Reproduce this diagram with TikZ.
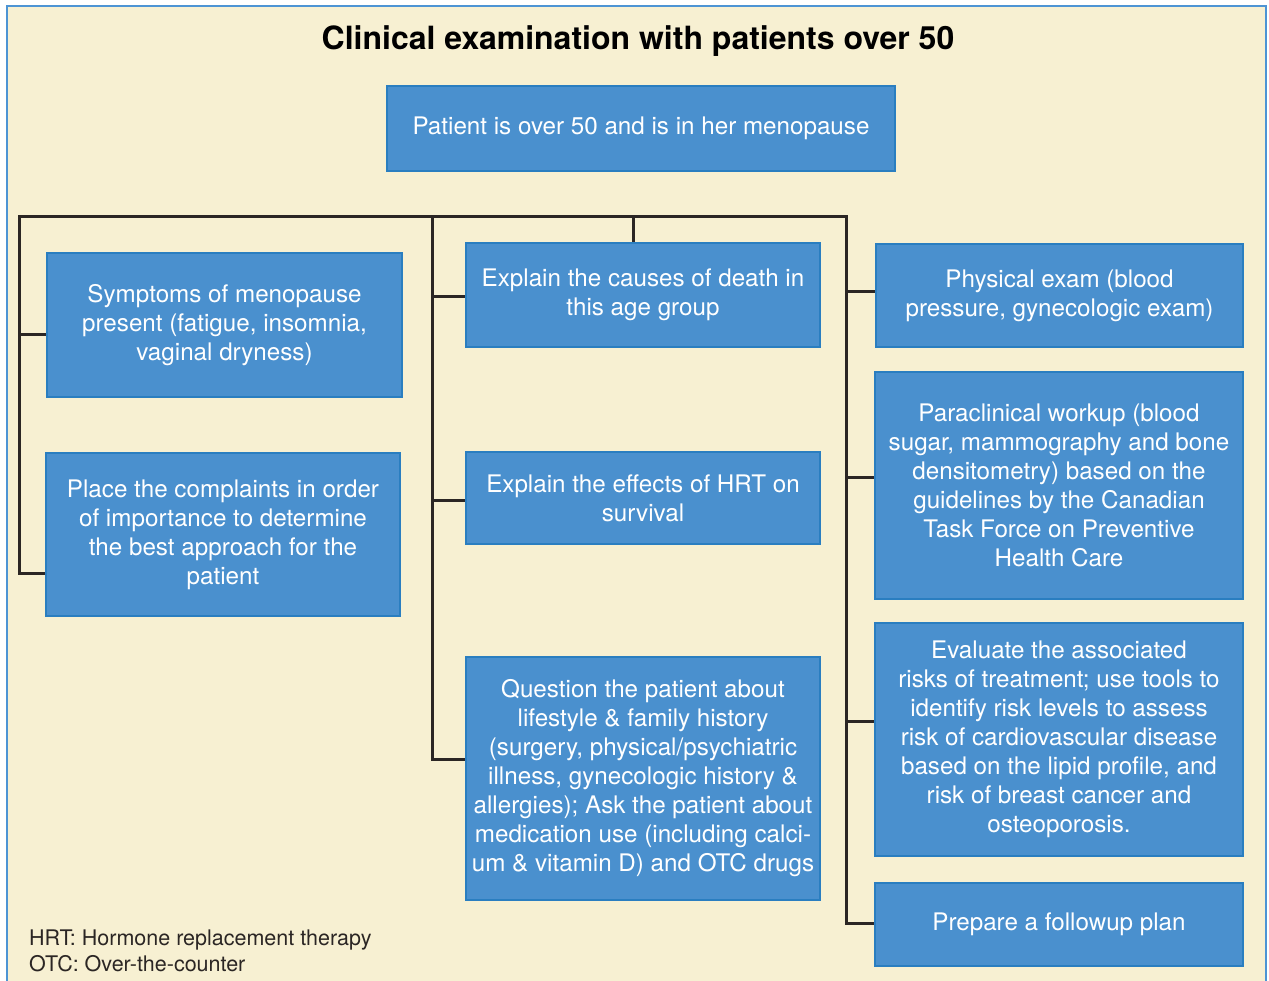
\documentclass[tikz,border=0pt]{standalone}
\usepackage{fontspec}
\setmainfont{TeX Gyre Heros}
\definecolor{cream}{HTML}{F7F0D2}
\definecolor{boxblue}{HTML}{4A90CE}
\definecolor{boxline}{HTML}{2A7EC0}
\definecolor{framecol}{HTML}{4D94D4}
\definecolor{wirecol}{HTML}{2B2624}
\tikzset{
  panel/.style={draw=boxline, line width=1.5pt, fill=boxblue, text=white, align=center,
    inner sep=0pt, font=\fontsize{24.2}{29}\selectfont},
  wire/.style={draw=wirecol, line width=3pt},
}
\begin{document}
\begin{tikzpicture}[x=1pt,y=-1pt]

	\useasboundingbox (0,0) rectangle (1269,980);
	\fill[cream] (7,6) rectangle (1266,990);
	\draw[framecol, line width=2.5pt] (7,990) -- (7,6) -- (1266,6) -- (1266,990);

	\node (title) at (638,41) {\fontsize{32}{38}\selectfont\bfseries Clinical examination with patients over 50};

	\node[panel, minimum width=508, minimum height=85] (meno) at (641,128.5) {Patient is over 50 and is in her menopause};

	\node[panel, minimum width=355, minimum height=144] (symp) at (224.5,325) {Symptoms of menopause\\present (fatigue, insomnia,\\vaginal dryness)};
	\node[panel, minimum width=354, minimum height=163] (order) at (223,534.5) {Place the complaints in order\\of importance to determine\\the best approach for the\\patient};

	\node[panel, minimum width=354, minimum height=104] (death) at (643,295) {Explain the causes of death in\\this age group};
	\node[panel, minimum width=354, minimum height=92] (hrt) at (643,498) {Explain the effects of HRT on\\survival};
	\node[panel, minimum width=354, minimum height=243] (quest) at (643,778.5) {Question the patient about\\lifestyle \& family history\\(surgery, physical/psychiatric\\illness, gynecologic history \&\\allergies); Ask the patient about\\medication use (including calci-\\um \& vitamin D) and OTC drugs};

	\node[panel, minimum width=367, minimum height=103] (exam) at (1059.5,295.5) {Physical exam (blood\\pressure, gynecologic exam)};
	\node[panel, minimum width=368, minimum height=227] (work) at (1059,485.5) {Paraclinical workup (blood\\sugar, mammography and bone\\densitometry) based on the\\guidelines by the Canadian\\Task Force on Preventive\\Health Care};
	\node[panel, minimum width=368, minimum height=233] (risk) at (1059,739.5) {Evaluate the associated\\risks of treatment; use tools to\\identify risk levels to assess\\risk of cardiovascular disease\\based on the lipid profile, and\\risk of breast cancer and\\osteoporosis.};
	\node[panel, minimum width=368, minimum height=83] (plan) at (1059,924.5) {Prepare a followup plan};

	\coordinate (jl) at (19,216);
	\coordinate (jc) at (432,216);
	\coordinate (jm) at (633,216);
	\coordinate (jr) at (846,216);

	\draw[wire] (order.west |- 0,573) -| (jl) -- (jr) |- (plan.west |- 0,923);
	\draw[wire] (jl |- 0,334) -- (symp.west |- 0,334);

	\draw[wire] (jc) |- (quest.west |- 0,759);
	\draw[wire] (jc |- 0,296) -- (death.west |- 0,296);
	\draw[wire] (jc |- 0,500) -- (hrt.west |- 0,500);
	\draw[wire] (jm) -- (jm |- death.north);

	\draw[wire] (jr |- 0,291) -- (exam.west |- 0,291);
	\draw[wire] (jr |- 0,477) -- (work.west |- 0,477);
	\draw[wire] (jr |- 0,721) -- (risk.west |- 0,721);

	\node[anchor=west, align=left, inner sep=0pt, text=wirecol, font=\fontsize{21.5}{26}\selectfont] (notes) at (29,951) {HRT: Hormone replacement therapy\\OTC: Over-the-counter};

\end{tikzpicture}
\end{document}
